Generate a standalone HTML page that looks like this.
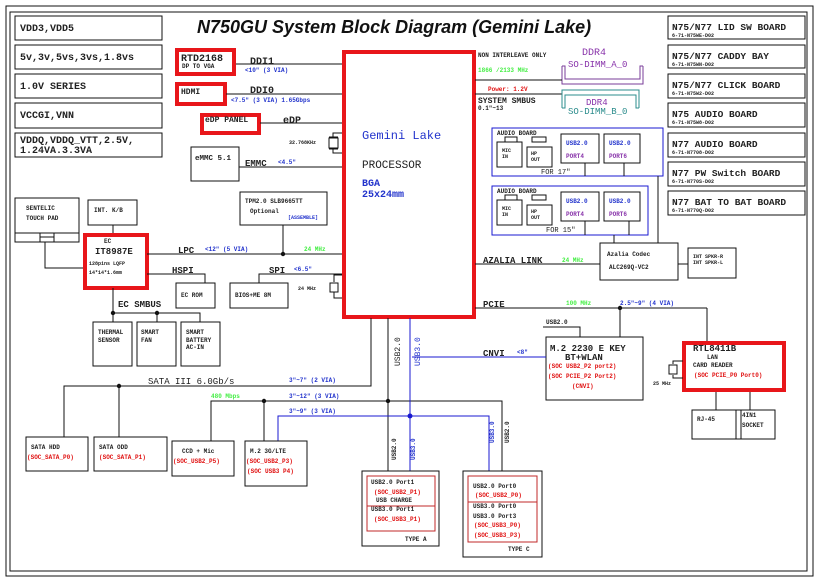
<!DOCTYPE html>
<html><head><meta charset="utf-8"><style>
html,body{margin:0;padding:0;background:#fff;}
svg{display:block}
text{font-family:"Liberation Mono",monospace;font-weight:bold;font-size:9px;fill:#222}
.s{font-size:6px}
.t{font-size:5px}
.r{fill:#e01010}
.b{fill:#2233cc}
.g{fill:#44ee44}
.p{fill:#8833aa}
.k{stroke:#111;fill:none;stroke-width:1}
.bl{stroke:#1a1ad0;fill:none;stroke-width:1}
.red{stroke:#e8161a;fill:none}
</style></head><body>
<svg width="819" height="582" viewBox="0 0 819 582" xmlns="http://www.w3.org/2000/svg">
<rect x="6" y="6" width="807" height="570" class="k"/>
<rect x="10" y="12" width="797" height="559" class="k"/>
<rect x="15" y="16" width="147" height="24" class="k"/><text x="20" y="31" style="font-size:10px">VDD3,VDD5</text>
<rect x="15" y="45" width="147" height="24" class="k"/><text x="20" y="60" style="font-size:10px">5v,3v,5vs,3vs,1.8vs</text>
<rect x="15" y="74" width="147" height="24" class="k"/><text x="20" y="89" style="font-size:10px">1.0V SERIES</text>
<rect x="15" y="103" width="147" height="25" class="k"/><text x="20" y="118" style="font-size:10px">VCCGI,VNN</text>
<rect x="15" y="133" width="147" height="24" class="k"/><text x="20" y="143" style="font-size:10px">VDDQ,VDDQ_VTT,2.5V,</text><text x="20" y="153" style="font-size:10px">1.24VA.3.3VA</text>
<text x="197" y="33" style="font-family:'Liberation Sans',sans-serif;font-style:italic;font-weight:bold;font-size:18px;fill:#111">N750GU System Block Diagram (Gemini Lake)</text>
<g>
<rect x="668" y="16" width="137" height="23" class="k"/><text x="672" y="30" style="font-size:9.5px">N75/N77 LID SW BOARD</text><text x="672" y="37" class="t">6-71-N75WE-D02</text>
<rect x="668" y="45" width="137" height="23" class="k"/><text x="672" y="59" style="font-size:9.5px">N75/N77 CADDY BAY</text><text x="672" y="66" class="t">6-71-N75WN-D02</text>
<rect x="668" y="74" width="137" height="24" class="k"/><text x="672" y="88" style="font-size:9.5px">N75/N77 CLICK BOARD</text><text x="672" y="95" class="t">6-71-N75W2-D02</text>
<rect x="668" y="103" width="137" height="24" class="k"/><text x="672" y="117" style="font-size:9.5px">N75 AUDIO BOARD</text><text x="672" y="124" class="t">6-71-N75W8-D02</text>
<rect x="668" y="133" width="137" height="24" class="k"/><text x="672" y="147" style="font-size:9.5px">N77 AUDIO BOARD</text><text x="672" y="154" class="t">6-71-N7708-D02</text>
<rect x="668" y="162" width="137" height="24" class="k"/><text x="672" y="176" style="font-size:9.5px">N77 PW Switch BOARD</text><text x="672" y="183" class="t">6-71-N770S-D02</text>
<rect x="668" y="191" width="137" height="24" class="k"/><text x="672" y="205" style="font-size:9.5px">N77 BAT TO BAT BOARD</text><text x="672" y="212" class="t">6-71-N770Q-D02</text>
</g>
<rect x="177" y="50" width="57" height="24" class="red" stroke-width="4"/><text x="181" y="61" style="font-size:10px">RTD2168</text><text x="182" y="68" class="s">DP TO VGA</text>
<rect x="177" y="84" width="48" height="20" class="red" stroke-width="4"/><text x="181" y="94" style="font-size:8px">HDMI</text>
<rect x="202" y="115" width="57" height="18" class="red" stroke-width="4"/><text x="205" y="122" style="font-size:8px">eDP PANEL</text>
<line x1="236" y1="64" x2="342" y2="64" class="k"/><text x="250" y="64" style="font-size:10px">DDI1</text><text x="245" y="72" class="s b">&lt;10"  (3 VIA)</text>
<line x1="226" y1="94" x2="342" y2="94" class="k"/><text x="250" y="93" style="font-size:10px">DDI0</text><text x="231" y="102" class="s b">&lt;7.5"  (3 VIA)  1.65Gbps</text>
<line x1="260" y1="123" x2="342" y2="123" class="k"/><text x="283" y="123" style="font-size:10px">eDP</text>
<text x="289" y="144" class="t">32.768KHz</text>
<path d="M342 133 H333 V138 M342 153 H333 V148 M329 138 h9 v10 h-9 z M329 137 h9 M329 149 h9" class="k"/>
<rect x="191" y="147" width="48" height="34" class="k"/><text x="195" y="160" style="font-size:7.5px">eMMC 5.1</text>
<line x1="239" y1="167" x2="342" y2="167" class="k"/><text x="245" y="166" style="font-size:9px">EMMC</text><text x="278" y="164" class="s b">&lt;4.5"</text>
<rect x="344" y="52" width="130" height="265" class="red" stroke-width="4"/>
<text x="362" y="139" class="b" style="font-size:12px;font-weight:normal">Gemini Lake</text>
<text x="362" y="168" style="font-size:11px;font-weight:normal">PROCESSOR</text>
<text x="362" y="186" class="b" style="font-size:10px">BGA</text>
<text x="362" y="197" class="b" style="font-size:10px">25x24mm</text>
<text x="478" y="57" class="s">NON INTERLEAVE ONLY</text><text x="582" y="55" class="p" style="font-size:10px;font-weight:normal">DDR4</text>
<text x="568" y="67" class="p" style="font-size:9px;font-weight:normal">SO-DIMM_A_0</text>
<path d="M562 66 V84 H643 V66 M562 66 h3 v13 h75 v-13 h3" class="k" style="stroke:#7a3c9a"/>
<text x="478" y="72" class="s g">1866 /2133 MHz</text>
<line x1="475" y1="80" x2="562" y2="80" class="k"/>
<text x="488" y="91" class="s r">Power: 1.2V</text>
<line x1="475" y1="94" x2="562" y2="94" class="k"/>
<path d="M562 108 V90 H639 V108 M562 108 h3 v-13 h71 v13 h3" class="k" style="stroke:#2b8c8c"/>
<text x="586" y="105" class="p" style="font-size:9px;font-weight:normal">DDR4</text>
<text x="568" y="114" style="font-size:9px;font-weight:normal;fill:#2b8c8c">SO-DIMM_B_0</text>
<text x="478" y="103" style="font-size:8px">SYSTEM SMBUS</text><text x="478" y="110" class="s">0.1"~13</text>
<g>
<rect x="492" y="128" width="171" height="48" class="bl"/>
<text x="497" y="135" class="s">AUDIO BOARD</text>
<rect x="505" y="137" width="12" height="5" class="k"/><rect x="497" y="142" width="25" height="25" class="k"/><text x="502" y="152" class="t">MIC</text><text x="502" y="158" class="t">IN</text>
<rect x="532" y="137" width="14" height="5" class="k"/><rect x="527" y="147" width="25" height="20" class="k"/><text x="531" y="155" class="t">HP</text><text x="531" y="161" class="t">OUT</text>
<rect x="561" y="134" width="38" height="29" class="k"/><text x="566" y="145" class="s b">USB2.0</text><text x="566" y="158" class="s p">PORT4</text>
<rect x="604" y="134" width="36" height="29" class="k"/><text x="609" y="145" class="s b">USB2.0</text><text x="609" y="158" class="s p">PORT6</text>
<path d="M585 163 V176 M624 163 V176" class="k"/>
<text x="541" y="174" style="font-size:7px;font-weight:normal">FOR 17"</text>
</g>
<g transform="translate(0,58)">
<rect x="492" y="128" width="156" height="49" class="bl"/>
<text x="497" y="135" class="s">AUDIO BOARD</text>
<rect x="505" y="137" width="12" height="5" class="k"/><rect x="497" y="142" width="25" height="25" class="k"/><text x="502" y="152" class="t">MIC</text><text x="502" y="158" class="t">IN</text>
<rect x="532" y="137" width="14" height="5" class="k"/><rect x="527" y="147" width="25" height="20" class="k"/><text x="531" y="155" class="t">HP</text><text x="531" y="161" class="t">OUT</text>
<rect x="561" y="134" width="38" height="29" class="k"/><text x="566" y="145" class="s b">USB2.0</text><text x="566" y="158" class="s p">PORT4</text>
<rect x="604" y="134" width="36" height="29" class="k"/><text x="609" y="145" class="s b">USB2.0</text><text x="609" y="158" class="s p">PORT6</text>
<path d="M585 163 V177 M629 163 V177" class="k"/>
<text x="546" y="174" style="font-size:7px;font-weight:normal">FOR 15"</text>
</g>
<path d="M658 176 V243 M614 235 V243" class="k"/>
<rect x="600" y="243" width="78" height="37" class="k"/><text x="607" y="256" class="s">Azalia Codec</text><text x="609" y="269" class="s">ALC269Q-VC2</text>
<line x1="678" y1="264" x2="688" y2="264" class="k"/>
<rect x="688" y="248" width="48" height="30" class="k"/><text x="693" y="258" class="t">INT SPKR-R</text><text x="693" y="264" class="t">INT SPKR-L</text>
<line x1="475" y1="264" x2="600" y2="264" class="k"/><text x="483" y="263" style="font-size:9px">AZALIA LINK</text><text x="562" y="262" class="s g">24 MHz</text>
<line x1="475" y1="308" x2="707" y2="308" class="k"/><line x1="707" y1="308" x2="707" y2="341" class="k"/>
<text x="483" y="307" style="font-size:9px">PCIE</text><text x="566" y="305" class="s g">100 MHz</text><text x="620" y="305" class="s b">2.5"~9"  (4 VIA)</text>
<circle cx="620" cy="308" r="2.2" fill="#111"/><line x1="620" y1="308" x2="620" y2="337" class="k"/>
<path d="M543 327 H580 V337" class="k"/><text x="546" y="324" class="s">USB2.0</text>
<rect x="546" y="337" width="97" height="63" class="k"/>
<text x="550" y="351" style="font-size:9px">M.2 2230 E KEY</text><text x="565" y="360" style="font-size:9px">BT+WLAN</text>
<text x="548" y="368" class="s r">(SOC USB2_P2 port2)</text><text x="548" y="378" class="s r">(SOC PCIE_P2 Port2)</text><text x="572" y="388" class="s r">(CNVI)</text>
<line x1="412" y1="357" x2="546" y2="357" class="bl"/><text x="483" y="356" style="font-size:9px">CNVI</text><text x="517" y="354" class="s b">&lt;8"</text>
<rect x="684" y="343" width="100" height="47" class="red" stroke-width="4"/>
<text x="693" y="351" style="font-size:9px">RTL8411B</text><text x="707" y="359" class="s">LAN</text><text x="693" y="367" class="s">CARD READER</text><text x="694" y="377" class="s r">(SOC PCIE_P0 Port0)</text>
<path d="M683 361 H673 V364 M683 378 H673 V375 M669 365 h8 v9 h-8 z" class="k"/><text x="653" y="385" class="t">25 MHz</text>
<path d="M716 392 V410 M750 392 V410" class="k"/>
<rect x="692" y="410" width="49" height="29" class="k"/><text x="697" y="421" class="s">RJ-45</text>
<path d="M736 439 V410 H775 V439 H736" class="k"/><text x="742" y="417" class="s">4IN1</text><text x="742" y="427" class="s">SOCKET</text>
<rect x="15" y="198" width="64" height="44" class="k"/><line x1="15" y1="233" x2="79" y2="233" class="k"/><rect x="40" y="233" width="14" height="9" class="k"/><line x1="40" y1="237" x2="54" y2="237" class="k"/>
<text x="26" y="210" class="s">SENTELIC</text><text x="26" y="220" class="s">TOUCH PAD</text>
<path d="M45 242 V268 H83" class="k"/>
<rect x="88" y="200" width="49" height="25" class="k"/><text x="94" y="212" class="s">INT. K/B</text>
<line x1="113" y1="225" x2="113" y2="233" class="k"/>
<rect x="85" y="235" width="62" height="53" class="red" stroke-width="4"/>
<text x="104" y="243" class="s">EC</text><text x="95" y="254" style="font-size:9px">IT8987E</text><text x="89" y="265" class="t">128pins LQFP</text><text x="89" y="274" class="t">14*14*1.6mm</text>
<line x1="147" y1="254" x2="342" y2="254" class="k"/><text x="178" y="253" style="font-size:9px">LPC</text><text x="205" y="251" class="s b">&lt;12"  (5 VIA)</text><text x="304" y="251" class="s g">24 MHz</text>
<circle cx="283" cy="254" r="2.2" fill="#111"/><line x1="283" y1="225" x2="283" y2="254" class="k"/>
<rect x="240" y="192" width="87" height="33" class="k"/><text x="245" y="203" class="s">TPM2.0 SLB9665TT</text><text x="250" y="213" class="s">Optional</text><text x="288" y="219" class="t b">[ASSEMBLE]</text>
<path d="M147 274 H205 V283" class="k"/><text x="172" y="273" style="font-size:9px">HSPI</text>
<rect x="176" y="283" width="39" height="25" class="k"/><text x="181" y="297" class="s">EC ROM</text>
<path d="M342 274 H259 V283" class="k"/><text x="269" y="273" style="font-size:9px">SPI</text><text x="294" y="271" class="s b">&lt;6.5"</text>
<rect x="230" y="283" width="58" height="25" class="k"/><text x="235" y="297" class="s">BIOS+ME 8M</text>
<path d="M342 275 H334 V282 M342 298 H334 V292 M330 283 h8 v9 h-8 z" class="k"/><text x="298" y="290" class="t">24 MHz</text>
<line x1="113" y1="288" x2="113" y2="322" class="k"/><path d="M113 313 H200 V322 M157 313 V322" class="k"/>
<circle cx="113" cy="313" r="2.2" fill="#111"/><circle cx="157" cy="313" r="2.2" fill="#111"/>
<text x="118" y="307" style="font-size:9px">EC SMBUS</text>
<rect x="93" y="322" width="39" height="44" class="k"/><text x="98" y="334" class="s">THERMAL</text><text x="98" y="342" class="s">SENSOR</text>
<rect x="137" y="322" width="39" height="44" class="k"/><text x="141" y="334" class="s">SMART</text><text x="141" y="342" class="s">FAN</text>
<rect x="181" y="322" width="39" height="44" class="k"/><text x="186" y="334" class="s">SMART</text><text x="186" y="342" class="s">BATTERY</text><text x="186" y="349" class="s">AC-IN</text>
<path d="M371 318 V386 H64 V437 M119 386 V437" class="k"/><circle cx="119" cy="386" r="2.2" fill="#111"/>
<text x="148" y="384" style="font-size:9px;font-weight:normal">SATA III 6.0Gb/s</text><text x="289" y="382" class="s b">3"~7"   (2 VIA)</text>
<path d="M388 318 V471 M388 401 H211 V441 M264 401 V441 M388 401 H502 V471" class="k"/>
<circle cx="264" cy="401" r="2.2" fill="#111"/><circle cx="388" cy="401" r="2.2" fill="#111"/>
<text x="211" y="398" class="s g">480 Mbps</text><text x="289" y="398" class="s b">3"~12"  (3 VIA)</text>
<path d="M410 318 V471 M410 416 H278 V441 M410 416 H489 V471" class="bl"/><circle cx="410" cy="416" r="2.5" fill="#1a1ad0"/>
<text x="289" y="413" class="s b">3"~9"   (3 VIA)</text>
<text transform="translate(400,366) rotate(-90)" style="font-size:8px;font-weight:normal">USB2.0</text>
<text transform="translate(420,366) rotate(-90)" class="b" style="font-size:8px;font-weight:normal">USB3.0</text>
<text transform="translate(396,460) rotate(-90)" class="s">USB2.0</text>
<text transform="translate(415,460) rotate(-90)" class="s b">USB3.0</text>
<text transform="translate(494,443) rotate(-90)" class="s b">USB3.0</text>
<text transform="translate(509,443) rotate(-90)" class="s">USB2.0</text>
<rect x="26" y="437" width="62" height="34" class="k"/><text x="31" y="449" class="s">SATA HDD</text><text x="27" y="459" class="s r">(SOC_SATA_P0)</text>
<rect x="94" y="437" width="73" height="34" class="k"/><text x="99" y="449" class="s">SATA ODD</text><text x="99" y="459" class="s r">(SOC_SATA_P1)</text>
<rect x="172" y="441" width="62" height="35" class="k"/><text x="182" y="453" class="s">CCD + Mic</text><text x="173" y="463" class="s r">(SOC_USB2_P5)</text>
<rect x="245" y="441" width="62" height="45" class="k"/><text x="250" y="453" class="s">M.2 3G/LTE</text><text x="246" y="463" class="s r">(SOC_USB2_P3)</text><text x="247" y="473" class="s r">(SOC USB3 P4)</text>
<rect x="362" y="471" width="77" height="75" class="k"/>
<rect x="367" y="476" width="68" height="55" class="k" style="stroke:#c0282a"/><line x1="367" y1="506" x2="435" y2="506" style="stroke:#c0282a"/>
<text x="371" y="484" class="s">USB2.0 Port1</text><text x="374" y="494" class="s r">(SOC_USB2_P1)</text><text x="376" y="502" class="s">USB CHARGE</text>
<text x="371" y="511" class="s">USB3.0 Port1</text><text x="374" y="521" class="s r">(SOC_USB3_P1)</text>
<text x="405" y="541" class="s">TYPE A</text>
<rect x="463" y="471" width="79" height="86" class="k"/>
<rect x="468" y="476" width="69" height="66" class="k" style="stroke:#c0282a"/><line x1="468" y1="502" x2="537" y2="502" style="stroke:#c0282a"/>
<text x="473" y="488" class="s">USB2.0 Port0</text><text x="475" y="497" class="s r">(SOC_USB2_P0)</text>
<text x="473" y="508" class="s">USB3.0 Port0</text><text x="473" y="518" class="s">USB3.0 Port3</text>
<text x="474" y="527" class="s r">(SOC_USB3_P0)</text><text x="474" y="537" class="s r">(SOC_USB3_P3)</text>
<text x="508" y="551" class="s">TYPE C</text>
</svg>
</body></html>
